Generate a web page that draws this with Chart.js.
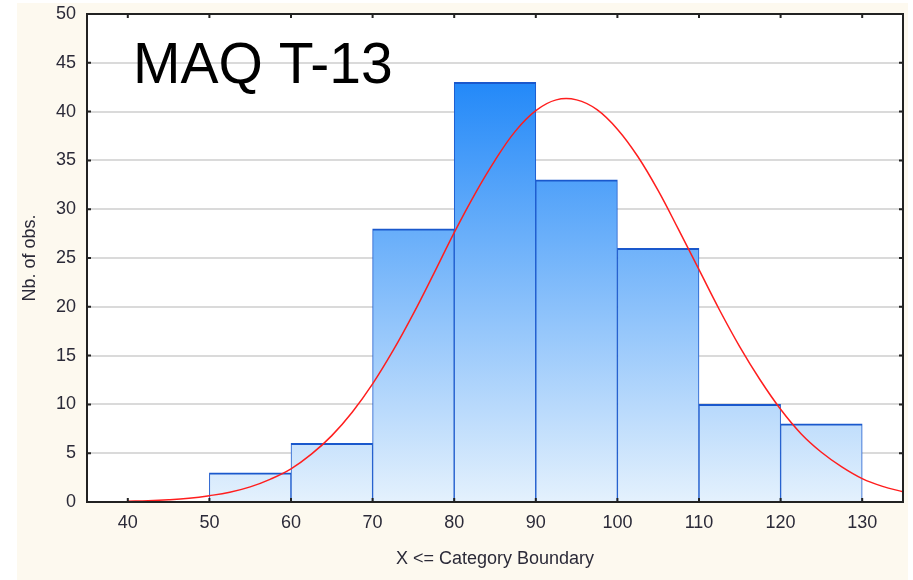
<!DOCTYPE html>
<html>
<head>
<meta charset="utf-8">
<script src="https://cdn.jsdelivr.net/npm/chart.js@4.4.1/dist/chart.umd.min.js"></script>
<style>
  html, body { margin: 0; padding: 0; background: #fff; }
  canvas { display: block; }
</style>
</head>
<body>
<canvas id="hist" width="913" height="580"></canvas>
<script>
// histogram bins (upper boundary) and counts
const binUpper = [50, 60, 70, 80, 90, 100, 110, 120, 130];
const counts = [0, 3, 6, 28, 43, 33, 26, 10, 8];

// fitted normal curve
const curveX = [40, 42.5, 45, 47.5, 50, 52.5, 55, 57.5, 60, 62.5, 65, 67.5, 70, 72.5, 75, 77.5, 80,
  82.5, 85, 87.5, 90, 92.5, 95, 97.5, 100, 102.5, 105, 107.5, 110, 112.5, 115, 117.5, 120,
  122.5, 125, 127.5, 130, 132.5, 135];
const curveY = [0.08, 0.13, 0.23, 0.39, 0.65, 1.0, 1.55, 2.35, 3.4, 4.9, 6.8, 9.2, 12.1, 15.5, 19.3, 23.4, 27.6,
  31.5, 35.0, 38.0, 40.1, 41.2, 41.2, 40.2, 38.2, 35.4, 31.9, 27.9, 23.8, 19.7, 15.9, 12.5, 9.5,
  7.0, 5.1, 3.6, 2.4, 1.6, 1.05];

const xTicks = [40, 50, 60, 70, 80, 90, 100, 110, 120, 130];
const yTicks = [0, 5, 10, 15, 20, 25, 30, 35, 40, 45, 50];

const titleText = 'MAQ T-13';
const xTitle = 'X <= Category Boundary';
const yTitle = 'Nb. of obs.';

const tickFont = { family: '"Liberation Sans", Arial, sans-serif', size: 18 };
const tickColor = '#2b2a38';

const barData = binUpper.map((b, i) => ({ x: b - 5, y: counts[i] }));
const lineData = curveX.map((x, i) => ({ x: x, y: curveY[i] }));

function barGradient(context) {
  const chart = context.chart;
  const area = chart.chartArea;
  if (!area) return '#6ab0fa';
  const y = chart.scales.y;
  const g = chart.ctx.createLinearGradient(0, y.getPixelForValue(45), 0, y.getPixelForValue(0));
  g.addColorStop(0, '#1a84f8');
  g.addColorStop(1, '#e4f1fd');
  return g;
}

const backdrop = {
  id: 'backdrop',
  beforeDraw(chart) {
    const ctx = chart.ctx;
    const a = chart.chartArea;
    ctx.save();
    ctx.fillStyle = '#ffffff';
    ctx.fillRect(0, 0, chart.width, chart.height);
    ctx.fillStyle = '#fdf9ef';
    ctx.fillRect(17, 3, 891, 577);
    ctx.fillStyle = '#ffffff';
    ctx.fillRect(a.left, a.top, a.right - a.left, a.bottom - a.top);
    ctx.restore();
  },
  afterDraw(chart) {
    const ctx = chart.ctx;
    const a = chart.chartArea;
    const xs = chart.scales.x, ys = chart.scales.y;
    ctx.save();
    // frame
    ctx.strokeStyle = '#222';
    ctx.lineWidth = 2;
    ctx.strokeRect(a.left, a.top, a.right - a.left, a.bottom - a.top);
    // small inward ticks on all sides
    ctx.beginPath();
    xTicks.forEach(v => {
      const px = xs.getPixelForValue(v);
      ctx.moveTo(px, a.top); ctx.lineTo(px, a.top + 4);
      ctx.moveTo(px, a.bottom); ctx.lineTo(px, a.bottom - 4);
    });
    yTicks.forEach(v => {
      const py = ys.getPixelForValue(v);
      ctx.moveTo(a.left, py); ctx.lineTo(a.left + 4, py);
      ctx.moveTo(a.right, py); ctx.lineTo(a.right - 4, py);
    });
    ctx.stroke();
    // big title in the plot
    ctx.fillStyle = '#000';
    ctx.font = '57px "Liberation Sans", Arial, sans-serif';
    ctx.textBaseline = 'alphabetic';
    ctx.fillText(titleText, 133, 83);
    ctx.restore();
  }
};

new Chart(document.getElementById('hist'), {
  data: {
    datasets: [{
      type: 'line',
      data: lineData,
      borderColor: '#ff1e1e',
      borderWidth: 1.5,
      pointRadius: 0,
      tension: 0.4,
      fill: false,
      order: 0
    }, {
      type: 'bar',
      data: barData,
      backgroundColor: barGradient,
      borderColor: '#1a58cc',
      borderWidth: { top: 2, left: 1, right: 1, bottom: 0 },
      borderSkipped: false,
      barPercentage: 1,
      categoryPercentage: 1,
      order: 1
    }]
  },
  options: {
    responsive: false,
    animation: false,
    layout: { padding: { top: 14, right: 10, left: 0, bottom: 0 } },
    plugins: {
      legend: { display: false },
      tooltip: { enabled: false }
    },
    scales: {
      x: {
        type: 'linear',
        offset: false,
        min: 35,
        max: 135,
        afterBuildTicks(scale) { scale.ticks = xTicks.map(v => ({ value: v })); },
        afterFit(scale) { scale.height = 78; scale.paddingLeft = 0; scale.paddingRight = 0; },
        grid: { display: false, drawTicks: false, offset: false },
        border: { display: false },
        ticks: { font: tickFont, color: tickColor, padding: 10, maxRotation: 0, autoSkip: false },
        title: {
          display: true,
          text: xTitle,
          font: tickFont,
          color: tickColor,
          padding: { top: 0, bottom: 10 }
        }
      },
      y: {
        min: 0,
        max: 50,
        afterBuildTicks(scale) { scale.ticks = yTicks.map(v => ({ value: v })); },
        afterFit(scale) { scale.width = 87; scale.paddingTop = 0; scale.paddingBottom = 0; },
        grid: { color: '#dadada', lineWidth: 2, drawTicks: false },
        border: { display: false },
        ticks: { font: tickFont, color: tickColor, padding: 11 },
        title: {
          display: true,
          text: yTitle,
          font: tickFont,
          color: tickColor,
          padding: { top: 19, bottom: 0 }
        }
      }
    }
  },
  plugins: [backdrop]
});
</script>
</body>
</html>
